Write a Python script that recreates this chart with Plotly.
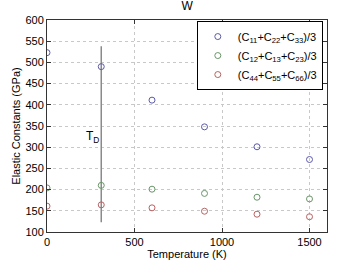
import plotly.graph_objects as go

temps = [0, 310, 600, 900, 1200, 1500]
c_diag = [523, 490, 411, 348, 301, 271]
c_off = [204, 210, 201, 191, 182, 178]
c_shear = [161, 164, 157, 149, 142, 136]
td_x = [310, 310]
td_y = [123, 538]
x_ticks = [0, 500, 1000, 1500]
y_ticks = [100, 150, 200, 250, 300, 350, 400, 450, 500, 550, 600]

font = "Liberation Sans, Arial, sans-serif"
fig = go.Figure()
fig.add_trace(go.Scatter(x=td_x, y=td_y, mode="lines", line=dict(color="#8a8a8a", width=1.5),
                         showlegend=False, hoverinfo="skip"))
series = [
    ("(C<sub>11</sub>+C<sub>22</sub>+C<sub>33</sub>)/3", c_diag, "#5a5aaa"),
    ("(C<sub>12</sub>+C<sub>13</sub>+C<sub>23</sub>)/3", c_off, "#6a956a"),
    ("(C<sub>44</sub>+C<sub>55</sub>+C<sub>66</sub>)/3", c_shear, "#b86262"),
]
for name, vals, col in series:
    fig.add_trace(go.Scatter(x=temps, y=vals, mode="markers", name=name,
                             marker=dict(symbol="circle-open", size=6, color=col, line=dict(width=1, color=col))))

fig.add_annotation(x=262, y=323, text="T<sub>D</sub>", showarrow=False,
                   font=dict(family=font, size=12, color="black"))

axis_common = dict(showline=True, linecolor="#333333", linewidth=1, mirror="ticks",
                   ticks="inside", ticklen=4, tickcolor="#333333",
                   showgrid=True, gridcolor="#c8c8c8", griddash="dot", gridwidth=1,
                   zeroline=False, tickfont=dict(family=font, size=11, color="black"))
fig.update_xaxes(range=[0, 1600], tickvals=x_ticks, **axis_common,
                 title=dict(text="Temperature (K)", font=dict(family=font, size=11, color="black"), standoff=2))
fig.update_yaxes(range=[100, 600], tickvals=y_ticks, **axis_common,
                 title=dict(text="Elastic Constants (GPa)", font=dict(family=font, size=11, color="black"), standoff=2))

fig.update_layout(
    width=360, height=270,
    margin=dict(l=47, r=33, t=20, b=30),
    paper_bgcolor="white", plot_bgcolor="white",
    title=dict(text="W", x=0.52, xanchor="center", y=0.995, yanchor="top",
               font=dict(family=font, size=12, color="black")),
    legend=dict(x=0.985, y=0.995, xanchor="right", yanchor="top", bgcolor="white",
                bordercolor="black", borderwidth=1, font=dict(family=font, size=11, color="black"),
                tracegroupgap=0, itemwidth=30),
    showlegend=True,
)
fig.write_html("out.html")
